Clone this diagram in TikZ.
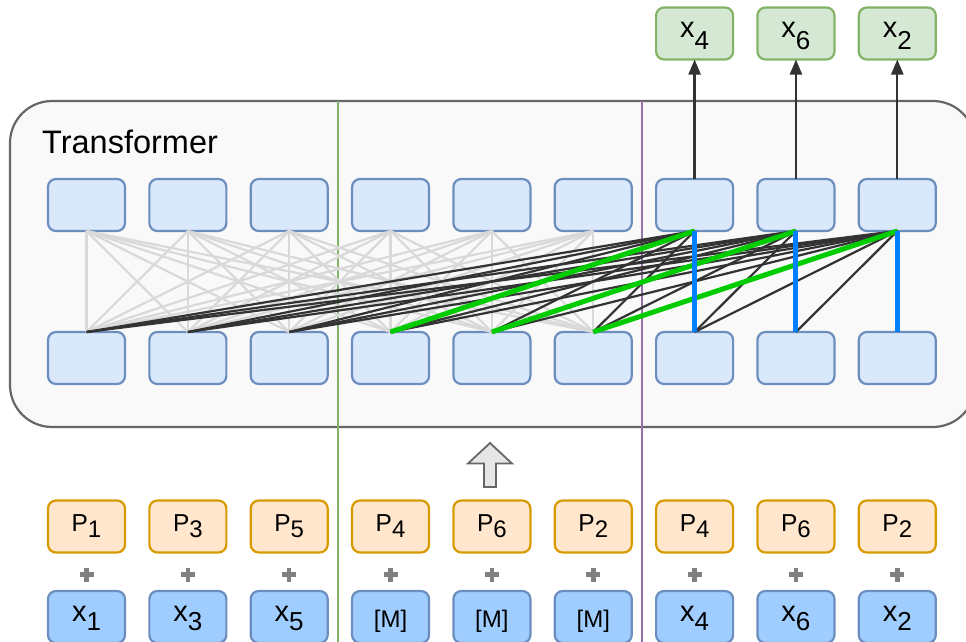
\documentclass[tikz,border=0pt]{standalone}
\usepackage{fontspec}
\setmainfont{Liberation Sans}
\usetikzlibrary{arrows.meta}

\definecolor{boxblue}{HTML}{DAE8FC}
\definecolor{edgeblue}{HTML}{6C8EBF}
\definecolor{tokblue}{HTML}{9FCDFF}
\definecolor{posfill}{HTML}{FFE6CC}
\definecolor{posedge}{HTML}{D79B00}
\definecolor{outfill}{HTML}{D5E8D4}
\definecolor{outedge}{HTML}{82B366}
\definecolor{sepgreen}{HTML}{82B366}
\definecolor{seppurple}{HTML}{9673A6}
\definecolor{attgray}{HTML}{D9D9D9}
\definecolor{attdark}{HTML}{333333}
\definecolor{attgreen}{HTML}{00CC00}
\definecolor{attblue}{HTML}{007FFF}
\definecolor{panelfill}{HTML}{F9F9F9}
\definecolor{paneledge}{HTML}{666666}
\definecolor{plusgray}{HTML}{808080}
\definecolor{arrowfill}{HTML}{E6E6E6}

% token labels with a lowered index
\newcommand\xtok[2][10pt]{{\fontsize{29}{30}\selectfont x}\raisebox{-#1}{\fontsize{26}{28}\selectfont #2}}
\newcommand\ptok[1]{{\fontsize{24.5}{26}\selectfont P}\raisebox{-5.3pt}{\fontsize{24}{25}\selectfont #1}}
\newcommand\masktok{{\fontsize{24}{25}\selectfont [M]}}

\begin{document}
\begin{tikzpicture}[x=1pt,y=-1pt,
  cell/.style={draw=edgeblue, fill=boxblue, line width=2.2pt, rounded corners=8pt,
    minimum width=77pt, minimum height=52pt, inner sep=0pt, outer sep=0pt},
  outcell/.style={cell, draw=outedge, fill=outfill, text height=14pt, text depth=5.4pt},
  poscell/.style={cell, draw=posedge, fill=posfill, text height=15pt, text depth=4.6pt},
  tokcell/.style={cell, fill=tokblue, text height=14pt, text depth=5.4pt},
  maskcell/.style={cell, fill=tokblue, text height=22pt, text depth=1.4pt},
  panel/.style={draw=paneledge, fill=panelfill, line width=2.2pt, rounded corners=42pt,
    minimum width=965pt, minimum height=326pt, inner sep=0pt},
  sep/.style={line width=1.8pt},
  att/.style={draw=attgray, line width=2.2pt},
  attk/.style={draw=attdark, line width=2.2pt},
  attg/.style={draw=attgreen, line width=5pt},
  attb/.style={draw=attblue, line width=5pt},
  outarrow/.style={draw=attdark, line width=2.3pt, -{Triangle[length=15pt,width=12pt]}},
  plusmark/.style={draw=plusgray, line width=4.5pt}
]
\useasboundingbox (0,0) rectangle (966,642);

% Transformer block
\node[panel] (panel) at (492.5,264) {};
\node[anchor=base west, inner sep=0pt, font=\fontsize{32.5}{34}\selectfont] (title) at (42,153) {Transformer};

% separators between the three token groups
\coordinate (g1) at (338,101);
\coordinate (g2) at (338,642);
\coordinate (v1) at (642,101);
\coordinate (v2) at (642,642);
\draw[sep, sepgreen] (g1) -- (g2);
\draw[sep, seppurple] (v1) -- (v2);

% column positions
\foreach \i/\cx in {1/86.5, 2/187.85, 3/289.2, 4/390.55, 5/491.9, 6/593.25, 7/694.6, 8/795.95, 9/897.3}{
  \node[cell] (t\i) at (\cx,205) {};
  \node[cell] (b\i) at (\cx,358) {};
  \draw[plusmark] (\cx-7,574.5) -- (\cx+7,574.5) (\cx,567.5) -- (\cx,581.5);
}

% position embeddings
\foreach \i/\cx/\p in {1/86.5/1, 2/187.85/3, 3/289.2/5, 4/390.55/4, 5/491.9/6, 6/593.25/2, 7/694.6/4, 8/795.95/6, 9/897.3/2}{
  \node[poscell] (p\i) at (\cx,526.5) {\ptok{\p}};
}

% input tokens
\node[tokcell] (e1) at (86.5,617) {\xtok[9pt]{1}};
\node[tokcell] (e2) at (187.85,617) {\xtok[9pt]{3}};
\node[tokcell] (e3) at (289.2,617) {\xtok[9pt]{5}};
\node[maskcell] (e4) at (390.55,617) {\masktok};
\node[maskcell] (e5) at (491.9,617) {\masktok};
\node[maskcell] (e6) at (593.25,617) {\masktok};
\node[tokcell] (e7) at (694.6,617) {\xtok[9pt]{4}};
\node[tokcell] (e8) at (795.95,617) {\xtok[9pt]{6}};
\node[tokcell] (e9) at (897.3,617) {\xtok[9pt]{2}};

% predicted outputs
\node[outcell] (o7) at (694.6,33.5) {\xtok[11.5pt]{4}};
\node[outcell] (o8) at (795.95,33.5) {\xtok[11.5pt]{6}};
\node[outcell] (o9) at (897.3,33.5) {\xtok[11.5pt]{2}};

% bidirectional attention among the first six positions
\foreach \i in {1,...,6}{
  \foreach \j in {1,...,6}{
    \draw[att] (t\i.south) -- (b\j.north);
  }
}

% attention of the predicted positions
\foreach \j in {1,2,3,5,6}{ \draw[attk] (t7.south) -- (b\j.north); }
\foreach \j in {1,2,3,4,6,7}{ \draw[attk] (t8.south) -- (b\j.north); }
\foreach \j in {1,2,3,4,5,7,8}{ \draw[attk] (t9.south) -- (b\j.north); }
\draw[attg] (t7.south) -- (b4.north);
\draw[attg] (t8.south) -- (b5.north);
\draw[attg] (t9.south) -- (b6.north);
\draw[attb] (t7.south) -- (b7.north);
\draw[attb] (t8.south) -- (b8.north);
\draw[attb] (t9.south) -- (b9.north);

% outputs
\draw[outarrow] (t7.north) -- (o7.south);
\draw[outarrow] (t8.north) -- (o8.south);
\draw[outarrow] (t9.north) -- (o9.south);

% input flow arrow
\draw[draw=paneledge, fill=arrowfill, line width=1.8pt, line join=miter]
  (490,443) -- (512,463.5) -- (496,463.5) -- (496,487) -- (484,487) -- (484,463.5) -- (468,463.5) -- cycle;
\end{tikzpicture}
\end{document}
